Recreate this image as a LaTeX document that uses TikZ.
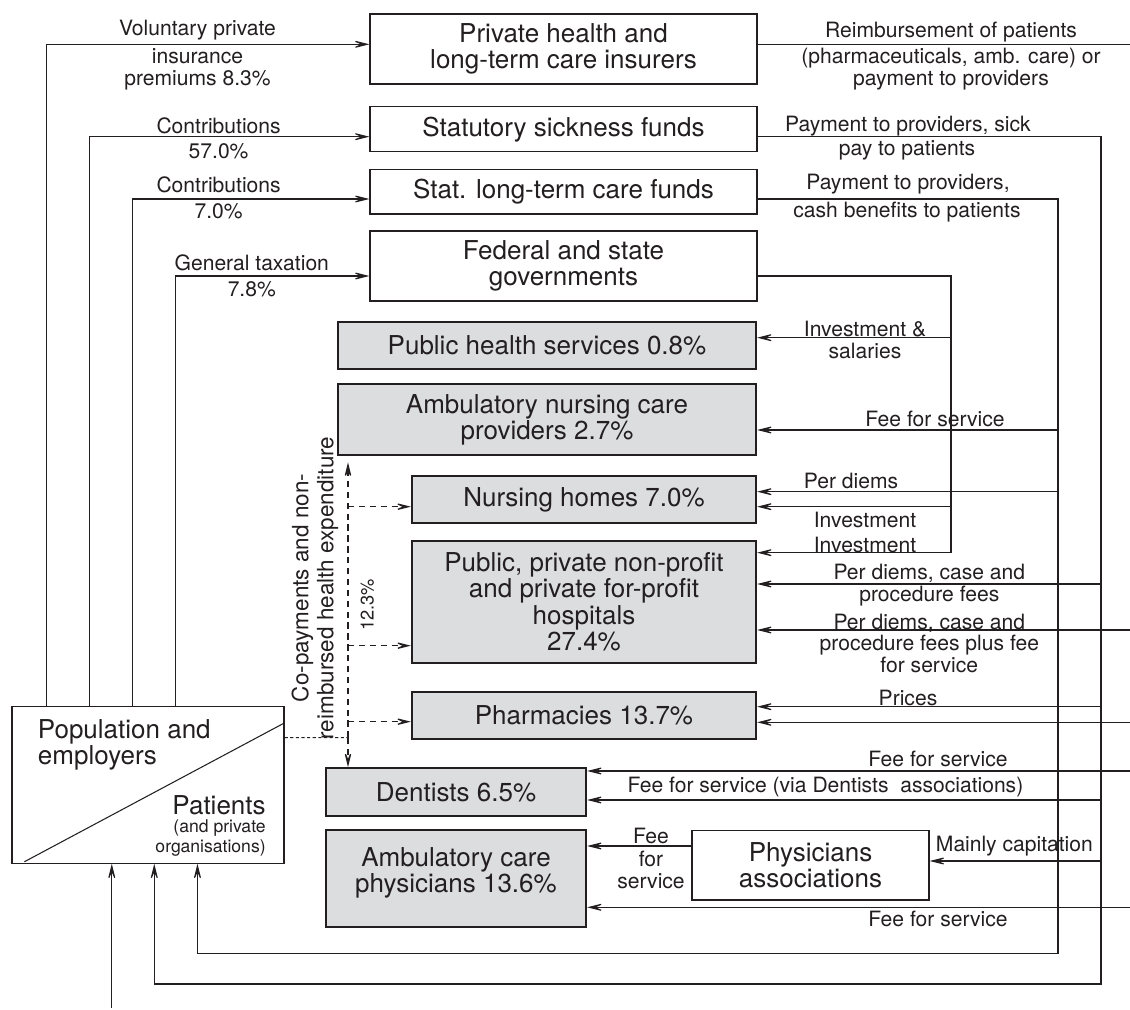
\documentclass[tikz,border=0pt]{standalone}
\usepackage{fontspec}
\setmainfont{TeX Gyre Heros}
\usepackage{tikz}
\usetikzlibrary{arrows.meta, calc}
\definecolor{ink}{HTML}{231F20}
\definecolor{boxgray}{HTML}{DCDDDF}
\newcommand{\boxfont}{\fontsize{14.8}{15.1}\selectfont}
\newcommand{\lblfont}{\fontsize{12}{12.4}\selectfont}
\newcommand{\smallfont}{\fontsize{10}{11.3}\selectfont}
\newcommand{\rotfont}{\fontsize{12.8}{14.2}\selectfont}
\newcommand{\pctfont}{\fontsize{10.4}{12}\selectfont}

\begin{document}
\begin{tikzpicture}[
    x=0.02cm, y=-0.02cm,
    >={Stealth[length=4mm, width=2mm, inset=2.3mm]},
    wbox/.style={rectangle, draw=ink, line width=0.7pt, fill=white, minimum width=7.74cm, align=center, font=\boxfont, text=ink, inner sep=0pt},
    gbox/.style={rectangle, draw=ink, line width=1.3pt, fill=boxgray, align=center, font=\boxfont, text=ink, inner sep=0pt},
    lbl/.style={font=\lblfont, align=center, inner sep=0pt, text=ink},
    flow/.style={draw=ink, line width=0.6pt},
    copay/.style={draw=ink, line width=0.7pt, dash pattern=on 3.6pt off 2.6pt}
]
\useasboundingbox (0,0) rectangle (1130,1010);

% Financing bodies
\node[wbox, minimum height=1.4cm] (ins) at (563.5,49) {Private health and\\long-term care insurers};
\node[wbox, minimum height=0.9cm] (shi) at (563.5,129.2) {Statutory sickness funds};
\node[wbox, minimum height=0.894cm] (ltc) at (563.5,191.7) {Stat. long-term care funds};
\node[wbox, minimum height=1.4cm] (gov) at (563.5,266) {Federal and state\\governments};

% Providers
\node[gbox, minimum width=8.36cm, minimum height=0.946cm] (phs) at (547,345.3) {Public health services 0.8\%};
\node[gbox, minimum width=8.36cm, minimum height=1.426cm] (anc) at (547,419.7) {Ambulatory nursing care\\providers 2.7\%};
\node[gbox, minimum width=6.88cm, minimum height=0.946cm] (nh) at (584,499.7) {Nursing homes 7.0\%};
\node[gbox, minimum width=6.88cm, minimum height=2.44cm] (hosp) at (584,601.7) {Public, private non-profit\\and private for-profit\\hospitals\\27.4\%};
\node[gbox, minimum width=6.88cm, minimum height=0.946cm] (pharm) at (584,715.3) {Pharmacies 13.7\%};
\node[gbox, minimum width=5.2cm, minimum height=0.948cm] (dent) at (456,792) {Dentists 6.5\%};
\node[gbox, minimum width=5.2cm, minimum height=1.928cm] (amb) at (456,878.5) {Ambulatory care\\physicians 13.6\%\\[-0.2cm]\mbox{}};
\node[wbox, minimum width=4.74cm, minimum height=1.394cm] (pa) at (810.5,865.2) {Physicians\\associations};

% Population box
\node[wbox, minimum width=5.44cm, minimum height=3.126cm] (pop) at (148,785) {};
\draw[ink, line width=0.6pt] ($(pop.south west)+(13,-2)$) -- ($(pop.north east)+(0,16.6)$);
\node[anchor=west, align=left, font=\boxfont, text=ink, inner sep=0pt] (popt) at (37.5,745) {Population and\\employers};
\node[anchor=east, font=\boxfont, text=ink, inner sep=0pt] (patt) at (266,805) {Patients};
\node[anchor=east, align=right, font=\smallfont, text=ink, inner sep=0pt] (orgt) at (266,838.3) {(and private\\organisations)};

% Payments into the system
\draw[flow, ->] ([xshift=-2.032cm]pop.north) |- ([yshift=0.094cm]ins.west);
\draw[flow, ->] ([xshift=-1.174cm]pop.north) |- ([yshift=-0.15cm]shi.west);
\draw[flow, ->] ([xshift=-0.302cm]pop.north) |- ([yshift=-0.146cm]ltc.west);
\draw[flow, ->] ([xshift=0.554cm]pop.north) |- ([yshift=-0.2cm]gov.west);

\node[lbl] (l1) at (197.5,30) {Voluntary private};
\node[lbl] (l2) at (197.5,69.2) {insurance\\premiums 8.3\%};
\node[lbl] (l3) at (218.6,126) {Contributions};
\node[lbl] (l4) at (218.6,151.7) {57.0\%};
\node[lbl] (l5) at (218.6,185) {Contributions};
\node[lbl] (l6) at (218.6,211.7) {7.0\%};
\node[lbl] (l7) at (251.8,263.3) {General taxation};
\node[lbl] (l8) at (251.8,289.3) {7.8\%};

% Bus lines on the right
\coordinate (busG) at (951,0);
\coordinate (busL) at (1058,0);
\coordinate (busS) at (1101,0);
\coordinate (redge) at (1130,0);
\coordinate (loopL) at (1058,953.3);
\coordinate (loopS) at (1101,984);
\coordinate (gEnd) at (951,552.7);

\draw[flow] ([yshift=0.094cm]ins.east) -- ([yshift=0.094cm]ins.east -| redge);
\draw[flow, ->] ([yshift=-0.15cm]shi.east) -| (loopS) -| ([xshift=0.126cm]pop.south);
\draw[flow, ->] ([yshift=-0.146cm]ltc.east) -| (loopL) -| ([xshift=0.99cm]pop.south);
\draw[flow, ->] ([yshift=-0.2cm]gov.east) -| (gEnd) -- (gEnd -| hosp.east);

% Payments to providers
\draw[flow, ->] ([yshift=0.152cm]phs.east -| busG) -- ([yshift=0.152cm]phs.east);
\draw[flow, ->] ([yshift=-0.206cm]anc.east -| busL) -- ([yshift=-0.206cm]anc.east);
\draw[flow, ->] ([yshift=0.16cm]nh.east -| busL) -- ([yshift=0.16cm]nh.east);
\draw[flow, ->] ([yshift=-0.14cm]nh.east -| busG) -- ([yshift=-0.14cm]nh.east);
\draw[flow, ->] ([yshift=0.354cm]hosp.east -| busS) -- ([yshift=0.354cm]hosp.east);
\draw[flow, ->] ([yshift=-0.566cm]hosp.east -| redge) -- ([yshift=-0.566cm]hosp.east);
\draw[flow, ->] ([yshift=0.172cm]pharm.east -| busS) -- ([yshift=0.172cm]pharm.east);
\draw[flow, ->] ([yshift=-0.14cm]pharm.east -| redge) -- ([yshift=-0.14cm]pharm.east);
\draw[flow, ->] ([yshift=0.42cm]dent.east -| redge) -- ([yshift=0.42cm]dent.east);
\draw[flow, ->] ([yshift=-0.16cm]dent.east -| busS) -- ([yshift=-0.16cm]dent.east);
\draw[flow, ->] ([yshift=0.384cm]pa.west) -- ([yshift=0.384cm]pa.west -| amb.east);
\draw[flow, ->] ([yshift=0.084cm]pa.east -| busS) -- ([yshift=0.084cm]pa.east);
\draw[flow, ->] ([yshift=-0.576cm]amb.east -| redge) -- ([yshift=-0.576cm]amb.east);

\node[lbl] (r1) at (951,31.7) {Reimbursement of patients};
\node[lbl] (r2) at (951,69.2) {(pharmaceuticals, amb. care) or\\payment to providers};
\node[lbl] (r3) at (908,126) {Payment to providers, sick};
\node[lbl] (r4) at (907,150.7) {pay to patients};
\node[lbl] (r5) at (908,184) {Payment to providers,};
\node[lbl] (r6) at (907,211.7) {cash benefits to patients};
\node[lbl] (r7) at (865,339.7) {Investment \&\\salaries};
\node[lbl] (r8) at (935,419.3) {Fee for service};
\node[lbl] (r9) at (851,481) {Per diems};
\node[lbl] (r10) at (865,520) {Investment};
\node[lbl] (r11) at (865,545) {Investment};
\node[lbl] (r12) at (929.3,585) {Per diems, case and\\procedure fees};
\node[lbl] (r13) at (929.3,643.3) {Per diems, case and\\procedure fees plus fee\\for service};
\node[lbl] (r14) at (908,698.3) {Prices};
\node[lbl] (r15) at (938,759.3) {Fee for service};
\node[lbl] (r16) at (825.4,787.3) {Fee for service (via Dentists~~associations)};
\node[lbl, font=\fontsize{12}{12.9}\selectfont] (r17) at (651,858.5) {Fee\\for\\service};
\node[lbl] (r18) at (1014.4,845.7) {Mainly capitation};
\node[lbl] (r19) at (938,919.3) {Fee for service};

% Bottom inflow
\coordinate (inflow) at (111.8,1008);
\draw[flow, ->] (inflow) -- (inflow |- pop.south);

% Co-payments
\coordinate (jc) at (348,737.7);
\draw[ink, line width=0.6pt, dash pattern=on 1.8pt off 1.4pt] ([yshift=0.946cm]pop.east) -- (jc);
\draw[copay, ->, shorten >=0.12cm] (jc) -- (jc |- anc.south);
\draw[copay, ->] (jc) -- (jc |- dent.north);
\draw[copay, ->] ([yshift=-0.14cm]nh.west -| jc) -- ([yshift=-0.14cm]nh.west);
\draw[copay, ->] ([yshift=-0.88cm]hosp.west -| jc) -- ([yshift=-0.88cm]hosp.west);
\draw[copay, ->] ([yshift=-0.128cm]pharm.west -| jc) -- ([yshift=-0.128cm]pharm.west);

\node[lbl, font=\rotfont, rotate=90] (coptxt) at (315,588) {Co-payments and non-\\reimbursed health expenditure};
\node[lbl, font=\pctfont, rotate=90] (pct) at (367.3,605) {12.3\%};

\end{tikzpicture}
\end{document}
